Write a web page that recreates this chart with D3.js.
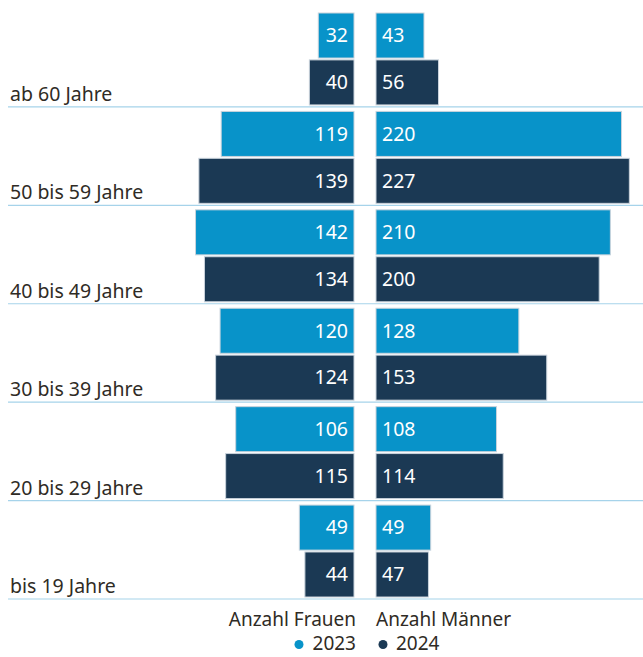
<!DOCTYPE html>
<html>
<head>
  <meta charset="utf-8">
  <title>Altersstruktur</title>
  <style>
    body { margin: 0; background: #fff; }
    svg { display: block; font-family: "Noto Sans", sans-serif; }
    .cat { fill: #2f2b25; font-size: 19.5px; }
    .val { fill: #fff; font-size: 19.5px; }
    .legend { fill: #2f2b25; font-size: 19px; }
    .sep { stroke: #a6d3ea; stroke-width: 1.2px; }
    .bar { stroke: #c9d3dc; stroke-width: 1px; }
  </style>
</head>
<body>
  <svg id="chart"></svg>

  <script src="https://d3js.org/d3.v7.min.js"></script>
  <script>
    // Altersgruppen von oben nach unten
    const groups = ["ab 60 Jahre", "50 bis 59 Jahre", "40 bis 49 Jahre", "30 bis 39 Jahre", "20 bis 29 Jahre", "bis 19 Jahre"];
    const years = ["2023", "2024"];
    const frauen2023 = [32, 119, 142, 120, 106, 49];
    const frauen2024 = [40, 139, 134, 124, 115, 44];
    const maenner2023 = [43, 220, 210, 128, 108, 49];
    const maenner2024 = [56, 227, 200, 153, 114, 47];
    const colors = { "2023": "#0893c9", "2024": "#1b3954" };

    const width = 643, height = 657;
    const leftEnd = 354, rightStart = 376;

    const svg = d3.select("#chart")
      .attr("width", width)
      .attr("height", height);

    const y = d3.scaleBand()
      .domain(groups)
      .range([8.5, 599]);

    const yInner = d3.scaleBand()
      .domain(years)
      .range([4.5, y.bandwidth() - 2])
      .paddingInner(0.04);

    // gleiche Skala für beide Seiten
    const x = d3.scaleLinear()
      .domain([0, 100])
      .range([0, 111.6]);

    const rows = [];
    groups.forEach((g, i) => {
      rows.push({ group: g, year: "2023", side: "f", v: frauen2023[i] });
      rows.push({ group: g, year: "2024", side: "f", v: frauen2024[i] });
      rows.push({ group: g, year: "2023", side: "m", v: maenner2023[i] });
      rows.push({ group: g, year: "2024", side: "m", v: maenner2024[i] });
    });

    // Trennlinien unter jeder Gruppe
    svg.selectAll(".sep")
      .data(groups)
      .enter()
      .append("line")
      .attr("class", "sep")
      .attr("x1", 8)
      .attr("x2", width)
      .attr("y1", (d) => y(d) + y.bandwidth())
      .attr("y2", (d) => y(d) + y.bandwidth());

    svg.selectAll(".bar")
      .data(rows)
      .enter()
      .append("rect")
      .attr("class", "bar")
      .attr("x", (d) => d.side === "f" ? leftEnd - x(d.v) : rightStart)
      .attr("y", (d) => y(d.group) + yInner(d.year))
      .attr("width", (d) => x(d.v))
      .attr("height", yInner.bandwidth())
      .style("fill", (d) => colors[d.year]);

    svg.selectAll(".val")
      .data(rows)
      .enter()
      .append("text")
      .attr("class", "val")
      .attr("x", (d) => d.side === "f" ? leftEnd - 6 : rightStart + 6)
      .attr("y", (d) => y(d.group) + yInner(d.year) + yInner.bandwidth() / 2)
      .attr("dy", "0.35em")
      .attr("text-anchor", (d) => d.side === "f" ? "end" : "start")
      .text((d) => d.v);

    svg.selectAll(".cat")
      .data(groups)
      .enter()
      .append("text")
      .attr("class", "cat")
      .attr("x", 10)
      .attr("y", (d) => y(d) + y.bandwidth() - 6)
      .text((d) => d);

    // Legende
    svg.append("text").attr("class", "legend")
      .attr("x", leftEnd + 2).attr("y", 626).attr("text-anchor", "end")
      .text("Anzahl Frauen");
    svg.append("text").attr("class", "legend")
      .attr("x", rightStart).attr("y", 626)
      .text("Anzahl Männer");

    svg.append("text").attr("class", "legend")
      .attr("x", leftEnd + 2).attr("y", 650).attr("text-anchor", "end")
      .text("2023");
    svg.append("circle")
      .attr("cx", 299).attr("cy", 644.5).attr("r", 4.5)
      .style("fill", colors["2023"]);
    svg.append("circle")
      .attr("cx", 383).attr("cy", 644.5).attr("r", 4.5)
      .style("fill", colors["2024"]);
    svg.append("text").attr("class", "legend")
      .attr("x", 396).attr("y", 650)
      .text("2024");
  </script>
</body>
</html>
